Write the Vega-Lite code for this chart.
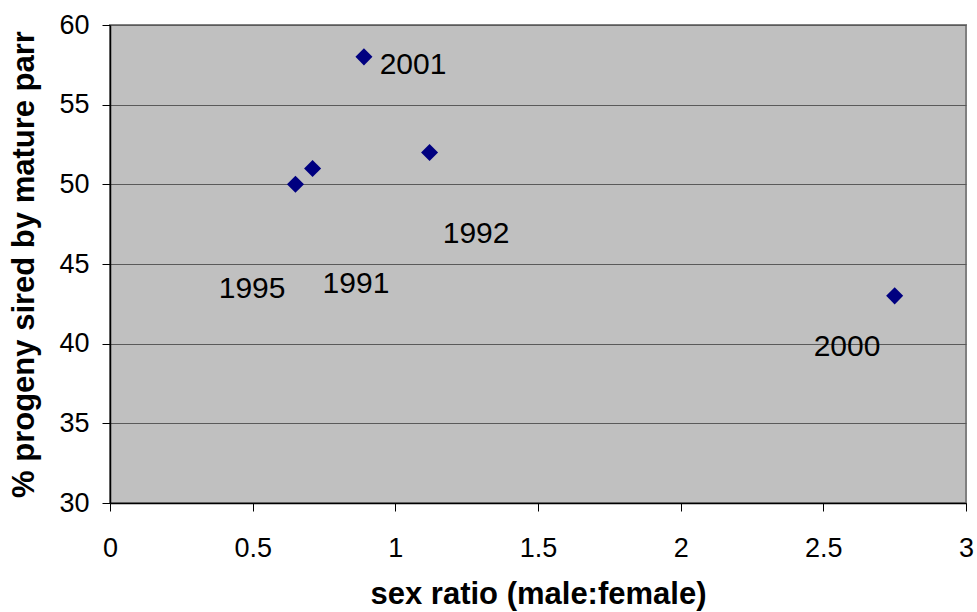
{
  "$schema": "https://vega.github.io/schema/vega-lite/v6.json",
  "width": 856,
  "height": 478,
  "autosize": "none",
  "padding": {"left": 110, "top": 25, "right": 11, "bottom": 109},
  "background": "white",
  "config": {
    "font": "Liberation Sans",
    "view": {"fill": "#c0c0c0", "stroke": "#808080", "strokeWidth": 2},
    "axis": {
      "domainColor": "black",
      "domainWidth": 1.5,
      "tickColor": "black",
      "tickSize": 8,
      "tickWidth": 1,
      "gridColor": "#5a5a5a",
      "gridWidth": 1,
      "labelColor": "black",
      "labelFont": "Liberation Sans",
      "labelFontSize": 27,
      "titleFont": "Liberation Sans",
      "titleFontSize": 31,
      "titleFontWeight": "bold",
      "titleColor": "black"
    }
  },
  "data": {
    "values": [
      {"ratio": 0.65, "pct": 50, "year": "1995", "label_x": 0.498, "label_y": 43.4},
      {"ratio": 0.71, "pct": 51, "year": "1991", "label_x": 0.862, "label_y": 43.75},
      {"ratio": 0.89, "pct": 58, "year": "2001", "label_x": 1.062, "label_y": 57.5},
      {"ratio": 1.12, "pct": 52, "year": "1992", "label_x": 1.283, "label_y": 46.9},
      {"ratio": 2.75, "pct": 43, "year": "2000", "label_x": 2.583, "label_y": 39.8}
    ]
  },
  "layer": [
    {
      "mark": {"type": "point", "shape": "diamond", "filled": true, "color": "#000080", "opacity": 1, "size": 290},
      "encoding": {
        "x": {
          "field": "ratio", "type": "quantitative",
          "scale": {"domain": [0, 3], "nice": false, "zero": false},
          "axis": {"values": [0, 0.5, 1, 1.5, 2, 2.5, 3], "format": "~g", "grid": false, "labelPadding": 24, "title": "sex ratio (male:female)", "titlePadding": 18, "labelFlush": false}
        },
        "y": {
          "field": "pct", "type": "quantitative",
          "scale": {"domain": [30, 60], "nice": false, "zero": false},
          "axis": {"values": [30, 35, 40, 45, 50, 55, 60], "grid": true, "labelPadding": 13, "title": "% progeny sired by mature parr", "titlePadding": 18, "labelFlush": false}
        }
      }
    },
    {
      "mark": {"type": "text", "fontSize": 30, "font": "Liberation Sans", "color": "black", "align": "center", "baseline": "middle"},
      "encoding": {
        "x": {"field": "label_x", "type": "quantitative"},
        "y": {"field": "label_y", "type": "quantitative"},
        "text": {"field": "year"}
      }
    }
  ]
}
